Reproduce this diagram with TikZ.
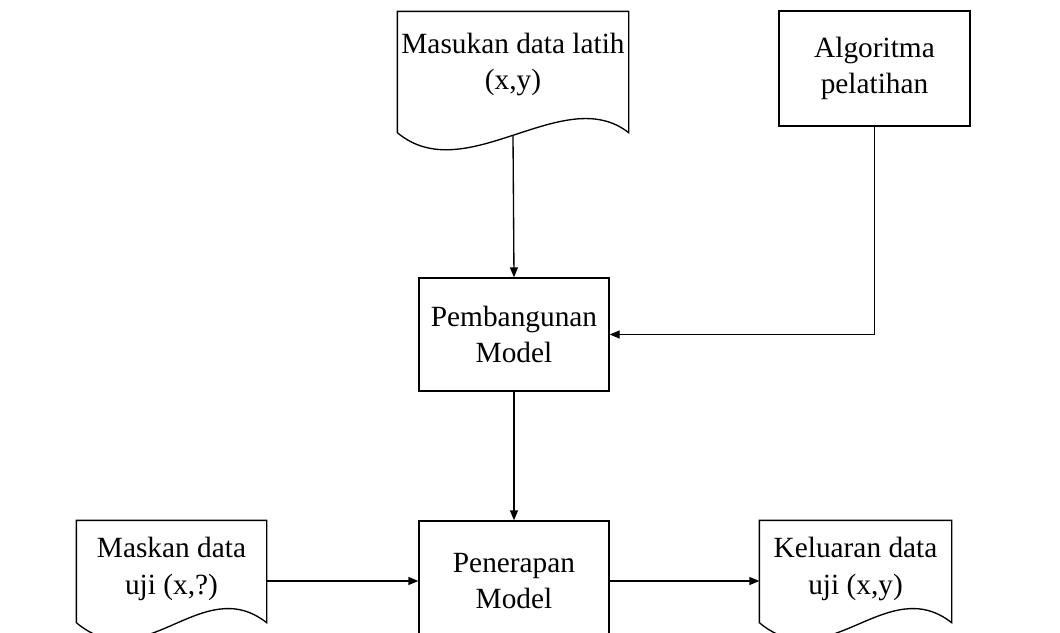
\documentclass[tikz,border=0pt]{standalone}
\usepackage{fontspec}
\setmainfont{Liberation Serif}
\usetikzlibrary{arrows.meta}

\newcommand{\dokumen}[2]{%
  \draw (#1.north west) -- (#1.north east) -- ([yshift=-#2]#1.south east)
    .. controls +(-65,-51) and +(68,57) .. ([yshift=-#2]#1.south west) -- cycle;}

\begin{document}
\begin{tikzpicture}[x=0.75pt,y=-0.75pt,line width=1pt,
  every node/.style={align=center, inner sep=0pt, font=\fontsize{22}{27.5}\selectfont},
  kotak/.style={draw, minimum width=142.5pt, minimum height=84.75pt},
  dok/.style={minimum width=141.75pt, minimum height=72pt},
  panah/.style={-{Triangle[length=7.5pt,width=6pt]}}]
\clip (0,0) rectangle (1060,632);

\node[dok, minimum width=172.5pt, minimum height=78.75pt] (latih) at (513,64.5) {Masukan data latih\\(x,y)};
\node[kotak, minimum width=143.25pt, minimum height=86.25pt] (algo) at (874.5,68.5) {Algoritma\\pelatihan};
\node[kotak] (pemb) at (514,334.5) {Pembangunan\\Model};
\node[kotak, minimum height=90pt] (pen) at (514,581) {Penerapan\\Model};
\node[dok] (uji) at (171.5,569) {Maskan data\\uji (x,?)};
\node[dok, minimum width=143.25pt] (kel) at (855.5,569) {Keluaran data\\uji (x,y)};

\dokumen{latih}{11.25pt}
\dokumen{uji}{3.75pt}
\dokumen{kel}{3.75pt}

\draw[panah] ([yshift=-13.5pt]latih.south) -- (pemb.north);
\draw[panah] (algo.south) |- (pemb.east);
\draw[panah] (pemb.south) -- (pen.north);
\draw[panah] (uji.east |- pen.west) -- (pen.west);
\draw[panah] (pen.east) -- (pen.east -| kel.west);
\end{tikzpicture}
\end{document}
